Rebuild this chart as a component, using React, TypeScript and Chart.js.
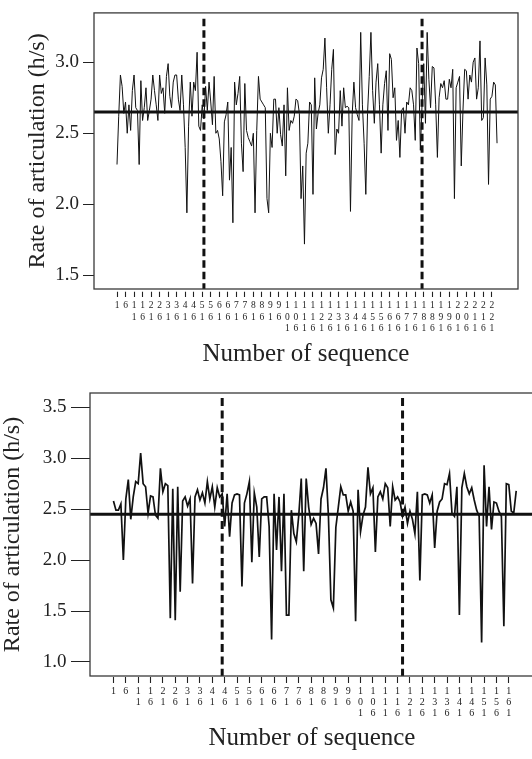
import React, { useEffect, useRef } from 'react';
import { Chart, registerables } from 'chart.js';

Chart.register(...registerables);

// ---------- data ----------
const topRates = [
  2.28, 2.62, 2.91, 2.83, 2.64, 2.72, 2.50, 2.70, 2.52, 2.80,
  2.91, 2.68, 2.66, 2.28, 2.87, 2.59, 2.68, 2.82, 2.59, 2.66,
  2.74, 2.91, 2.80, 2.70, 2.59, 2.91, 2.78, 2.82, 2.64, 2.90,
  2.99, 2.76, 2.68, 2.86, 2.91, 2.91, 2.74, 2.66, 2.91, 2.70,
  2.40, 1.94, 2.55, 2.86, 2.62, 2.86, 2.80, 3.07, 2.55, 2.52,
  2.70, 2.60, 2.83, 2.66, 2.86, 2.72, 2.56, 2.90, 2.50, 2.52,
  2.46, 2.30, 2.06, 2.58, 2.63, 2.72, 2.17, 2.40, 1.87, 2.86,
  2.70, 2.78, 2.90, 2.43, 2.23, 2.85, 2.52, 2.47, 2.44, 2.41,
  2.50, 1.94, 2.52, 2.90, 2.74, 2.72, 2.70, 2.68, 2.04, 1.94,
  2.50, 2.40, 2.74, 2.74, 2.50, 2.68, 2.49, 2.41, 2.70, 2.20,
  2.82, 2.52, 2.59, 2.57, 2.62, 2.74, 2.73, 2.64, 2.04, 2.27,
  1.72, 2.36, 2.43, 2.72, 2.70, 2.07, 2.89, 2.53, 2.64, 2.70,
  2.89, 2.95, 3.17, 2.82, 2.50, 2.70, 2.95, 3.09, 2.35, 2.53,
  2.50, 2.80, 2.55, 2.82, 2.68, 2.69, 2.68, 1.95, 2.63, 2.86,
  2.68, 2.63, 2.59, 3.21, 2.70, 2.43, 2.07, 2.64, 2.90, 3.21,
  2.80, 2.57, 2.86, 2.99, 2.70, 2.36, 2.70, 2.85, 2.94, 2.52,
  3.06, 3.02, 2.75, 2.82, 2.45, 2.59, 2.33, 2.66, 2.68, 2.50,
  2.72, 2.70, 2.82, 2.80, 2.70, 2.45, 3.10, 2.99, 2.38, 2.70,
  2.99, 2.57, 3.21, 2.88, 2.68, 2.97, 2.96, 2.70, 2.33, 2.75,
  2.85, 2.82, 2.87, 2.74, 2.74, 2.88, 2.82, 2.95, 2.04, 2.82,
  2.86, 2.90, 2.27, 2.66, 2.95, 2.94, 2.74, 2.91, 2.86, 3.00,
  3.03, 2.74, 2.82, 3.15, 2.59, 2.61, 3.03, 2.84, 2.14, 2.74,
  2.76, 2.86, 2.84, 2.43,
];

const bottomRates = [
  2.58, 2.49, 2.49, 2.55, 2.00, 2.60, 2.79, 2.40, 2.62, 2.77,
  2.75, 3.05, 2.75, 2.72, 2.46, 2.63, 2.62, 2.44, 2.41, 2.90,
  2.67, 2.75, 2.73, 1.43, 2.70, 1.41, 2.72, 1.69, 2.58, 2.62,
  2.53, 2.60, 1.77, 2.62, 2.69, 2.59, 2.66, 2.56, 2.77, 2.60,
  2.72, 2.52, 2.71, 2.62, 2.65, 2.33, 2.65, 2.23, 2.56, 2.64,
  2.65, 2.64, 1.74, 2.56, 2.65, 2.77, 1.98, 2.66, 2.52, 2.03,
  2.60, 2.62, 2.62, 2.33, 1.22, 2.65, 2.10, 2.62, 1.89, 2.65,
  1.46, 1.46, 2.49, 2.26, 2.18, 2.44, 2.80, 1.89, 2.80, 2.52,
  2.35, 2.41, 2.36, 2.06, 2.60, 2.71, 2.90, 2.43, 1.61, 1.53,
  2.32, 2.52, 2.72, 2.64, 2.64, 2.48, 2.57, 2.48, 1.40, 2.69,
  2.28, 2.44, 2.52, 2.91, 2.65, 2.71, 2.08, 2.62, 2.67, 2.60,
  2.75, 2.71, 2.33, 2.72, 2.59, 2.62, 2.57, 2.43, 2.52, 2.36,
  2.48, 2.40, 2.26, 2.67, 1.80, 2.64, 2.65, 2.64, 2.56, 2.64,
  2.12, 2.48, 2.57, 2.60, 2.75, 2.74, 2.85, 2.46, 2.43, 2.72,
  1.46, 2.71, 2.85, 2.72, 2.65, 2.71, 2.59, 2.49, 2.43, 1.19,
  2.93, 2.33, 2.72, 2.30, 2.57, 2.56, 2.48, 2.43, 1.35, 2.75,
  2.74, 2.48, 2.46, 2.68,
];

const topMean = 2.65;
const bottomMean = 2.45;
const topBreaks = [52, 180];
const bottomBreaks = [45, 118];

const topXTicks = [
  1, 6, 11, 16, 21, 26, 31, 36, 41, 46, 51, 56, 61, 66, 71, 76, 81, 86, 91, 96,
  101, 106, 111, 116, 121, 126, 131, 136, 141, 146, 151, 156, 161, 166, 171, 176,
  181, 186, 191, 196, 201, 206, 211, 216, 221,
];
const bottomXTicks = [
  1, 6, 11, 16, 21, 26, 31, 36, 41, 46, 51, 56, 61, 66, 71, 76, 81, 86, 91, 96,
  101, 106, 111, 116, 121, 126, 131, 136, 141, 146, 151, 156, 161,
];
const topYTicks = [1.5, 2.0, 2.5, 3.0];
const bottomYTicks = [1.0, 1.5, 2.0, 2.5, 3.0, 3.5];

const yTitle = 'Rate of articulation (h/s)';
const xTitle = 'Number of sequence';

const SERIF = "'Liberation Serif', 'Times New Roman', serif";
const INK = '#111';

// ---------- frame plugin ----------
const framePlugin = {
  id: 'frame',
  afterDatasetsDraw(chart: any, _args: any, opts: any) {
    const { ctx, chartArea: a } = chart;
    ctx.save();
    ctx.strokeStyle = opts.color || '#333';
    ctx.lineWidth = opts.width || 1.2;
    ctx.strokeRect(a.left, a.top, a.right - a.left, a.bottom - a.top);
    ctx.restore();
  },
};

type PanelSpec = {
  rates: number[];
  mean: number;
  breaks: number[];
  xTicks: number[];
  yTicks: number[];
  xMin: number;
  xMax: number;
  yMin: number;
  yMax: number;
  dashTop: number;
  width: number;
  height: number;
  padTop: number;
  padRight: number;
  yAxisWidth: number;
  xAxisHeight: number;
  lineWidth: number;
  dash: number[];
  xTickFont: number;
  xTickLineHeight: number;
  xTickDash: number[];
  xTickLen: number;
  xTickPad: number;
  yTickDash: number[];
  yTickLen: number;
  yTickPad: number;
  yTitlePad: number;
  xTitlePad: number;
};

function Panel({ spec, top }: { spec: PanelSpec; top: number }) {
  const ref = useRef<HTMLCanvasElement | null>(null);

  useEffect(() => {
    if (!ref.current) return;
    const s = spec;
    const datasets: any[] = [
      {
        label: 'rate',
        data: s.rates.map((v, i) => ({ x: i + 1, y: v })),
        borderColor: INK,
        borderWidth: s.lineWidth,
        pointRadius: 0,
        tension: 0,
        order: 3,
      },
      {
        label: 'mean',
        data: [
          { x: s.xMin, y: s.mean },
          { x: s.xMax, y: s.mean },
        ],
        borderColor: INK,
        borderWidth: 3,
        pointRadius: 0,
        order: 1,
      },
      ...s.breaks.map((b) => ({
        label: 'break',
        data: [
          { x: b, y: s.dashTop },
          { x: b, y: s.yMin },
        ],
        borderColor: INK,
        borderWidth: 3,
        borderDash: s.dash,
        borderCapStyle: 'butt',
        pointRadius: 0,
        order: 2,
      })),
    ];

    const chart = new Chart(ref.current, {
      type: 'line',
      data: { datasets },
      plugins: [framePlugin as any],
      options: {
        responsive: false,
        animation: false,
        events: [],
        layout: { padding: { top: s.padTop, right: s.padRight, left: 0, bottom: 0 } },
        plugins: {
          legend: { display: false },
          tooltip: { enabled: false },
          frame: { color: '#3a3a3a', width: 1.3 },
        } as any,
        scales: {
          x: {
            type: 'linear',
            min: s.xMin,
            max: s.xMax,
            afterBuildTicks: (axis: any) => {
              axis.ticks = s.xTicks.map((v) => ({ value: v }));
            },
            afterFit: (axis: any) => {
              axis.height = s.xAxisHeight;
            },
            border: { display: false },
            grid: {
              drawOnChartArea: false,
              drawTicks: true,
              tickLength: s.xTickLen,
              tickColor: '#222',
              tickWidth: 1.1,
              tickBorderDash: s.xTickDash,
            } as any,
            ticks: {
              autoSkip: false,
              maxRotation: 0,
              minRotation: 0,
              padding: s.xTickPad,
              color: '#222',
              font: { family: SERIF, size: s.xTickFont, lineHeight: s.xTickLineHeight },
              callback: (v: any) => String(v).split(''),
            },
            title: {
              display: true,
              text: xTitle,
              color: '#222',
              font: { family: SERIF, size: 25, lineHeight: 1 },
              padding: { top: 0, bottom: s.xTitlePad },
            },
          },
          y: {
            type: 'linear',
            min: s.yMin,
            max: s.yMax,
            afterBuildTicks: (axis: any) => {
              axis.ticks = s.yTicks.map((v) => ({ value: v }));
            },
            afterFit: (axis: any) => {
              axis.width = s.yAxisWidth;
            },
            border: { display: false },
            grid: {
              drawOnChartArea: false,
              drawTicks: true,
              tickLength: s.yTickLen,
              tickColor: '#222',
              tickWidth: 1.1,
              tickBorderDash: s.yTickDash,
            } as any,
            ticks: {
              padding: s.yTickPad,
              color: '#222',
              font: { family: SERIF, size: 19 },
              callback: (v: any) => Number(v).toFixed(1),
            },
            title: {
              display: true,
              text: yTitle,
              color: '#222',
              font: { family: SERIF, size: 24, lineHeight: 1 },
              padding: { top: s.yTitlePad, bottom: 0 },
            },
          },
        },
      } as any,
    });
    return () => chart.destroy();
  }, [spec]);

  return (
    <canvas
      ref={ref}
      width={spec.width}
      height={spec.height}
      style={{ position: 'absolute', left: 0, top, display: 'block' }}
    />
  );
}

const topSpec: PanelSpec = {
  rates: topRates,
  mean: topMean,
  breaks: topBreaks,
  xTicks: topXTicks,
  yTicks: topYTicks,
  xMin: -12.5,
  xMax: 236.3,
  yMin: 1.404,
  yMax: 3.347,
  dashTop: 3.305,
  width: 532,
  height: 372,
  padTop: 7,
  padRight: 14,
  yAxisWidth: 94,
  xAxisHeight: 83,
  lineWidth: 1,
  dash: [7.5, 4],
  xTickFont: 9.5,
  xTickLineHeight: 1.2,
  xTickDash: [0, 2.7, 5.3, 60],
  xTickLen: 8,
  xTickPad: 3,
  yTickDash: [0, 2.5, 11, 60],
  yTickLen: 13.5,
  yTickPad: 1.5,
  yTitlePad: 26,
  xTitlePad: 5.5,
};

const bottomSpec: PanelSpec = {
  rates: bottomRates,
  mean: bottomMean,
  breaks: bottomBreaks,
  xTicks: bottomXTicks,
  yTicks: bottomYTicks,
  xMin: -8.5,
  xMax: 171.2,
  yMin: 0.862,
  yMax: 3.64,
  dashTop: 3.59,
  width: 534,
  height: 387,
  padTop: 21,
  padRight: 0,
  yAxisWidth: 90,
  xAxisHeight: 83,
  lineWidth: 1.7,
  dash: [8, 4.3],
  xTickFont: 10,
  xTickLineHeight: 1.1,
  xTickDash: [0, 1, 6, 60],
  xTickLen: 8,
  xTickPad: 2.2,
  yTickDash: [0, 1, 19, 60],
  yTickLen: 20,
  yTickPad: 3.5,
  yTitlePad: 1,
  xTitlePad: 8.5,
};

export default function App() {
  return (
    <div
      style={{
        position: 'fixed',
        left: 0,
        top: 0,
        width: 532,
        height: 759,
        overflow: 'hidden',
        background: '#fff',
      }}
    >
      <Panel spec={topSpec} top={0} />
      <Panel spec={bottomSpec} top={372} />
    </div>
  );
}
